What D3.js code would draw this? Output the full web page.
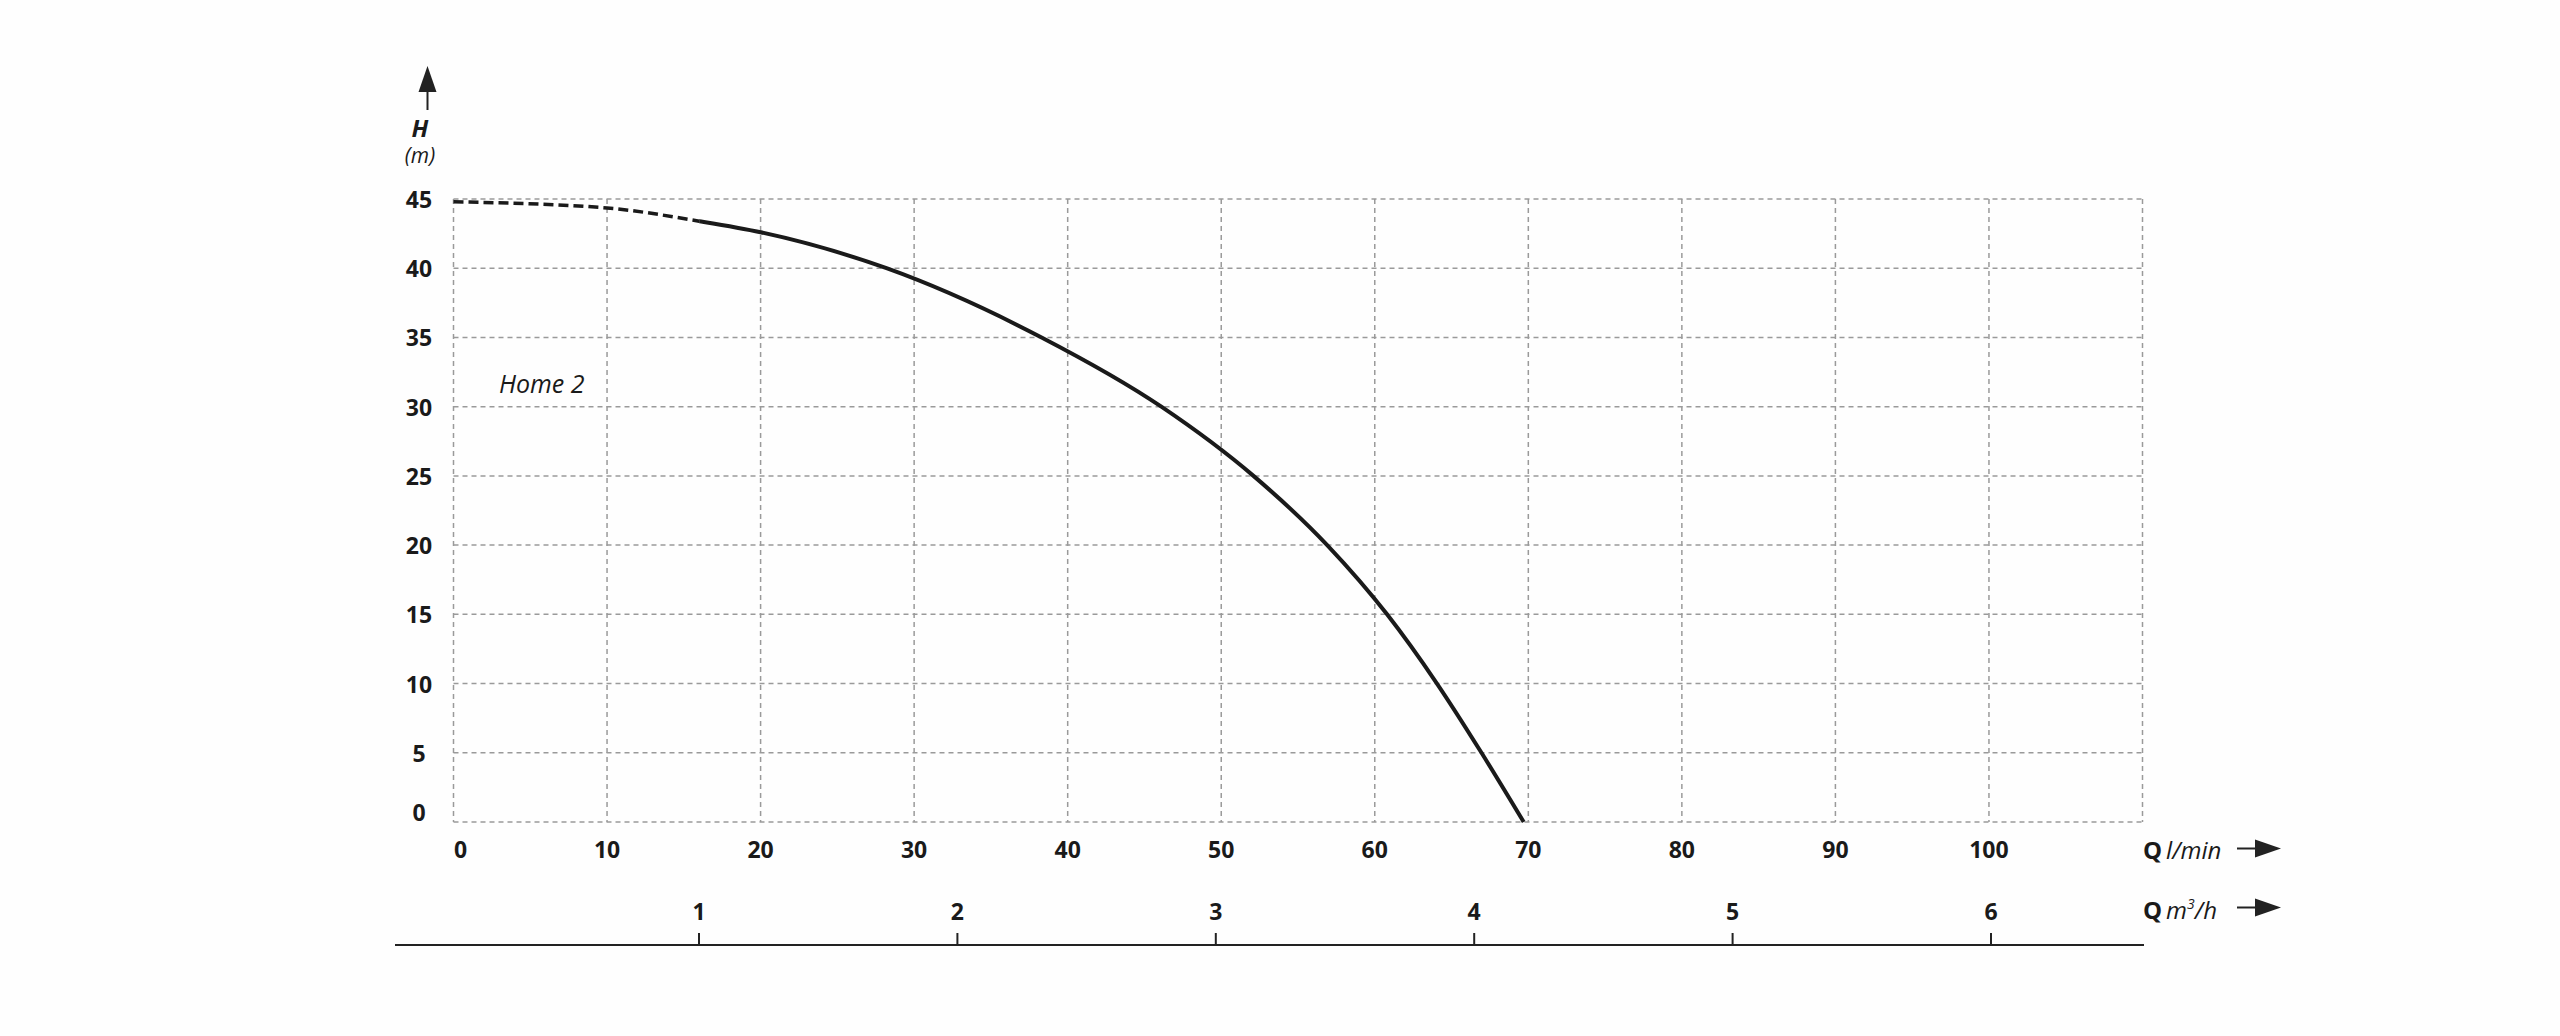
<!DOCTYPE html>
<html>
<head>
<meta charset="utf-8">
<script src="https://cdn.jsdelivr.net/npm/d3@7/dist/d3.min.js"></script>
<style>
html,body{margin:0;padding:0;background:#ffffff;}
svg{display:block;}
text{font-family:"Open Sans","Noto Sans",sans-serif;fill:#1a1a1a;}
</style>
</head>
<body>
<svg id="chart" width="2560" height="1036"></svg>
<script>
// ---- data ----
const flowTicksLmin = [0,10,20,30,40,50,60,70,80,90,100];
const gridX = [0,10,20,30,40,50,60,70,80,90,100,110];
const headTicks = [0,5,10,15,20,25,30,35,40,45];
const flowTicksM3h = [1,2,3,4,5,6];
// pump curve "Home 2": Q (l/min) vs H (m)
const curveQ = [0, 10, 16, 20, 28.2, 38.3, 46.1, 52.1, 56.9, 60.8, 64.05, 66.95, 69.7];
const curveH = [44.8, 44.35, 43.4, 42.6, 40, 35, 30, 25, 20, 15, 10, 5, 0];
const dashedUntilQ = 16;
const seriesName = "Home 2";

// ---- layout ----
const svg = d3.select("#chart");
const x = d3.scaleLinear().domain([0,110]).range([453.5, 2142.5]);
const y = d3.scaleLinear().domain([0,45]).range([822, 199]);
const xm = d3.scaleLinear().domain([1,6]).range([699, 1991]);

svg.append("rect").attr("width",2560).attr("height",1036).attr("fill","#fefefe");

// grid
const grid = svg.append("g").attr("stroke","#9a9a9a").attr("stroke-width",1.5).attr("stroke-dasharray","5,4").attr("fill","none");
grid.selectAll("line.v").data(gridX).join("line").attr("class","v")
  .attr("x1",d=>x(d)).attr("x2",d=>x(d)).attr("y1",y(45)).attr("y2",y(0));
grid.selectAll("line.h").data(headTicks).join("line").attr("class","h")
  .attr("x1",x(0)).attr("x2",x(110)).attr("y1",d=>y(d)).attr("y2",d=>y(d));

// y tick labels
svg.append("g").selectAll("text").data(headTicks).join("text")
  .attr("x",419).attr("y",d=>y(d) + (d===0 ? -1 : 9))
  .attr("text-anchor","middle").attr("font-size",23).attr("font-weight",700)
  .text(d=>d);

// x tick labels (l/min)
svg.append("g").selectAll("text").data(flowTicksLmin).join("text")
  .attr("x",d=>x(d) + (d===0 ? 7 : 0)).attr("y",858)
  .attr("text-anchor","middle").attr("font-size",23).attr("font-weight",700)
  .text(d=>d);

// m3/h axis
svg.append("line").attr("x1",395).attr("x2",2144).attr("y1",945).attr("y2",945)
  .attr("stroke","#222").attr("stroke-width",2.2);
const mt = svg.append("g");
mt.selectAll("line").data(flowTicksM3h).join("line")
  .attr("x1",d=>xm(d)).attr("x2",d=>xm(d)).attr("y1",933).attr("y2",945)
  .attr("stroke","#222").attr("stroke-width",2);
mt.selectAll("text").data(flowTicksM3h).join("text")
  .attr("x",d=>xm(d)).attr("y",920).attr("text-anchor","middle")
  .attr("font-size",23).attr("font-weight",700).text(d=>d);

// curve: one smooth spline, split into dashed and solid parts by clipping
const pts = curveQ.map((q,i)=>({q, h:curveH[i]}));
const line = d3.line().x(d=>x(d.q)).y(d=>y(d.h)).curve(d3.curveMonotoneX);
const defs = svg.append("defs");
defs.append("clipPath").attr("id","clipDash").append("rect")
  .attr("x",0).attr("y",0).attr("width",x(dashedUntilQ)).attr("height",1036);
defs.append("clipPath").attr("id","clipSolid").append("rect")
  .attr("x",x(dashedUntilQ)).attr("y",0).attr("width",2560).attr("height",1036);
svg.append("path").attr("d",line(pts)).attr("fill","none").attr("clip-path","url(#clipDash)")
  .attr("stroke","#1a1a1a").attr("stroke-width",3.5).attr("stroke-dasharray","10,5");
svg.append("path").attr("d",line(pts)).attr("fill","none").attr("clip-path","url(#clipSolid)")
  .attr("stroke","#1a1a1a").attr("stroke-width",4);

// series label
svg.append("text").attr("x",499).attr("y",393).attr("font-size",25)
  .attr("font-style","italic").attr("fill","#222").text(seriesName);

// Y axis arrow and title
svg.append("line").attr("x1",427.5).attr("x2",427.5).attr("y1",110).attr("y2",90)
  .attr("stroke","#222").attr("stroke-width",2);
svg.append("path").attr("d","M427.5,66 L436.5,92 L418.5,92 Z").attr("fill","#222");
svg.append("text").attr("x",420).attr("y",137).attr("text-anchor","middle")
  .attr("font-size",24).attr("font-weight",700).attr("font-style","italic").text("H");
svg.append("text").attr("x",420).attr("y",163).attr("text-anchor","middle")
  .attr("font-size",21).attr("font-style","italic").text("(m)");

// Q labels with arrows
function qLabel(yBase, parts, arrowY){
  const t = svg.append("text").attr("x",2143).attr("y",yBase).attr("font-size",24);
  t.append("tspan").attr("font-weight",700).text("Q");
  parts(t);
  svg.append("line").attr("x1",2237).attr("x2",2258).attr("y1",arrowY).attr("y2",arrowY)
    .attr("stroke","#222").attr("stroke-width",2);
  svg.append("path").attr("d",`M2281,${arrowY} L2255,${arrowY-9} L2255,${arrowY+9} Z`).attr("fill","#222");
}
qLabel(859, t=>{ t.append("tspan").attr("font-style","italic").attr("dx",4).text("l/min"); }, 848.5);
qLabel(919, t=>{
  t.append("tspan").attr("font-style","italic").attr("dx",4).text("m");
  t.append("tspan").attr("font-style","italic").attr("font-size",14).attr("dy",-10).text("3");
  t.append("tspan").attr("font-style","italic").attr("dy",10).text("/h");
}, 907.5);
</script>
</body>
</html>
